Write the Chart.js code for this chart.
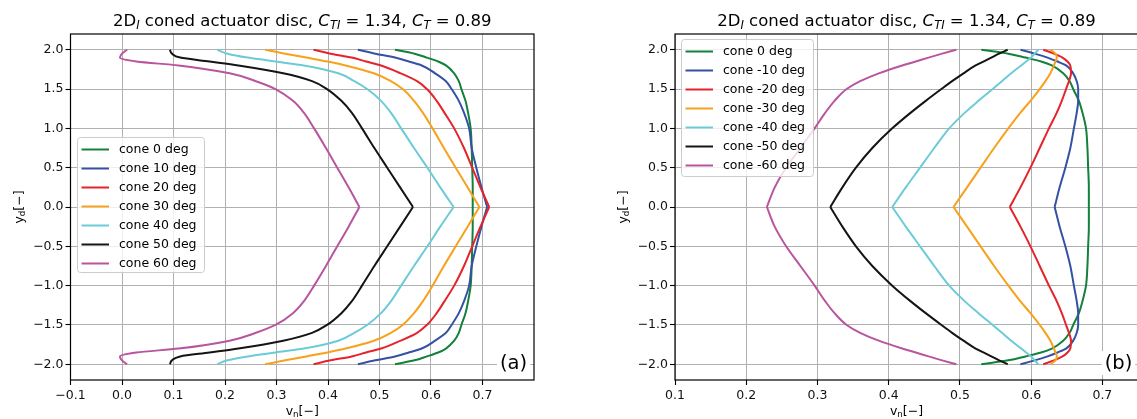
<!DOCTYPE html>
<html>
<head>
<meta charset="utf-8">
<script src="https://cdn.jsdelivr.net/npm/chart.js@4.4.1/dist/chart.umd.min.js"></script>
<style>
  body { margin: 0; width: 1137px; height: 419px; overflow: hidden; background: #fff; position: relative; }
  #wrapA { position: absolute; left: 0; top: 0; width: 560px; height: 419px; }
  #wrapB { position: absolute; left: 570px; top: 0; width: 580px; height: 419px; }
</style>
</head>
<body>
<div id="wrapA"><canvas id="chartA"></canvas></div>
<div id="wrapB"><canvas id="chartB"></canvas></div>
<script>
// y positions along the disc, top edge to bottom edge
const yPts = [2.0, 1.95, 1.9, 1.85, 1.8, 1.7, 1.6, 1.5, 1.35, 1.2, 1.0, 0.75, 0.5, 0.25, 0.0,
  -0.25, -0.5, -0.75, -1.0, -1.2, -1.35, -1.5, -1.6, -1.7, -1.8, -1.85, -1.9, -1.95, -2.0];

const labelsA = ["cone 0 deg", "cone 10 deg", "cone 20 deg", "cone 30 deg", "cone 40 deg", "cone 50 deg", "cone 60 deg"];
const labelsB = ["cone 0 deg", "cone -10 deg", "cone -20 deg", "cone -30 deg", "cone -40 deg", "cone -50 deg", "cone -60 deg"];
const lineColors = ["#13803b", "#3451a3", "#e5232b", "#f7a11c", "#6ccbd8", "#141414", "#b8559f"];

const xTicksA = [-0.1, 0.0, 0.1, 0.2, 0.3, 0.4, 0.5, 0.6, 0.7];
const xTicksB = [0.1, 0.2, 0.3, 0.4, 0.5, 0.6, 0.7];
const yTicks = [-2.0, -1.5, -1.0, -0.5, 0.0, 0.5, 1.0, 1.5, 2.0];

// normal velocity v_n at each y, positive cone angles
const vnCone0 = [0.530, 0.568, 0.592, 0.614, 0.629, 0.645, 0.654, 0.659, 0.667, 0.672, 0.677, 0.679, 0.680, 0.681, 0.681,
  0.681, 0.680, 0.679, 0.677, 0.672, 0.667, 0.659, 0.654, 0.645, 0.629, 0.614, 0.592, 0.568, 0.530];
const vnCone10 = [0.458, 0.492, 0.530, 0.557, 0.582, 0.608, 0.629, 0.640, 0.654, 0.664, 0.674, 0.679, 0.688, 0.698, 0.709,
  0.698, 0.688, 0.679, 0.674, 0.664, 0.654, 0.640, 0.629, 0.608, 0.582, 0.557, 0.530, 0.492, 0.458];
const vnCone20 = [0.372, 0.405, 0.446, 0.474, 0.503, 0.541, 0.573, 0.592, 0.611, 0.626, 0.645, 0.664, 0.680, 0.696, 0.713,
  0.696, 0.680, 0.664, 0.645, 0.626, 0.611, 0.592, 0.573, 0.541, 0.503, 0.474, 0.446, 0.405, 0.372];
const vnCone30 = [0.278, 0.317, 0.358, 0.399, 0.434, 0.489, 0.522, 0.545, 0.567, 0.584, 0.603, 0.625, 0.648, 0.671, 0.694,
  0.671, 0.648, 0.625, 0.603, 0.584, 0.567, 0.545, 0.522, 0.489, 0.434, 0.399, 0.358, 0.317, 0.278];
const vnCone40 = [0.185, 0.205, 0.244, 0.298, 0.353, 0.420, 0.451, 0.476, 0.503, 0.522, 0.542, 0.567, 0.593, 0.618, 0.644,
  0.618, 0.593, 0.567, 0.542, 0.522, 0.503, 0.476, 0.451, 0.420, 0.353, 0.298, 0.244, 0.205, 0.185];
const vnCone50 = [0.093, 0.097, 0.113, 0.170, 0.226, 0.313, 0.369, 0.398, 0.426, 0.446, 0.466, 0.490, 0.515, 0.540, 0.565,
  0.540, 0.515, 0.490, 0.466, 0.446, 0.426, 0.398, 0.369, 0.313, 0.226, 0.170, 0.113, 0.097, 0.093];
const vnCone60 = [0.010, 0.000, -0.004, 0.028, 0.110, 0.209, 0.260, 0.298, 0.332, 0.353, 0.373, 0.396, 0.418, 0.440, 0.461,
  0.440, 0.418, 0.396, 0.373, 0.353, 0.332, 0.298, 0.260, 0.209, 0.110, 0.028, -0.004, 0.000, 0.010];

// negative cone angles
const vnConeM10 = [0.585, 0.605, 0.623, 0.637, 0.649, 0.659, 0.664, 0.666, 0.666, 0.664, 0.660, 0.655, 0.648, 0.640, 0.633,
  0.640, 0.648, 0.655, 0.660, 0.664, 0.666, 0.666, 0.664, 0.659, 0.649, 0.637, 0.623, 0.605, 0.585];
const vnConeM20 = [0.617, 0.632, 0.644, 0.651, 0.655, 0.656, 0.653, 0.649, 0.643, 0.636, 0.625, 0.612, 0.599, 0.585, 0.570,
  0.585, 0.599, 0.612, 0.625, 0.636, 0.643, 0.649, 0.653, 0.656, 0.655, 0.651, 0.644, 0.632, 0.617];
const vnConeM30 = [0.627, 0.634, 0.636, 0.634, 0.632, 0.627, 0.620, 0.612, 0.599, 0.585, 0.568, 0.548, 0.529, 0.510, 0.491,
  0.510, 0.529, 0.548, 0.568, 0.585, 0.599, 0.612, 0.620, 0.627, 0.632, 0.634, 0.636, 0.634, 0.627];
const vnConeM40 = [0.610, 0.605, 0.600, 0.593, 0.586, 0.572, 0.559, 0.546, 0.526, 0.507, 0.485, 0.464, 0.444, 0.424, 0.405,
  0.424, 0.444, 0.464, 0.485, 0.507, 0.526, 0.546, 0.559, 0.572, 0.586, 0.593, 0.600, 0.605, 0.610];
const vnConeM50 = [0.567, 0.555, 0.544, 0.533, 0.522, 0.505, 0.489, 0.474, 0.452, 0.431, 0.405, 0.377, 0.354, 0.335, 0.318,
  0.335, 0.354, 0.377, 0.405, 0.431, 0.452, 0.474, 0.489, 0.505, 0.522, 0.533, 0.544, 0.555, 0.567];
const vnConeM60 = [0.495, 0.475, 0.456, 0.438, 0.419, 0.386, 0.360, 0.341, 0.324, 0.311, 0.296, 0.276, 0.256, 0.240, 0.229,
  0.240, 0.256, 0.276, 0.296, 0.311, 0.324, 0.341, 0.360, 0.386, 0.419, 0.438, 0.456, 0.475, 0.495];

const FONT = "DejaVu Sans";
Chart.defaults.font.family = FONT;

const titleParts = [
  {t: "2D"}, {t: "I", it: true, sub: true}, {t: " coned actuator disc, "},
  {t: "C", it: true}, {t: "TI", it: true, sub: true}, {t: " = 1.34, "},
  {t: "C", it: true}, {t: "T", it: true, sub: true}, {t: " = 0.89"}
];
const yTitleParts = [{t: "y"}, {t: "d", sub: true}, {t: "[\u2212]"}];
const xTitleParts = [{t: "v"}, {t: "n", sub: true}, {t: "[\u2212]"}];

function partFont(p, size) {
  return (p.it ? "italic " : "") + (p.sub ? size * 0.7 : size) + "px '" + FONT + "'";
}

// draws a run of text pieces with subscripts, centred on (cx, cy)
function drawRich(ctx, parts, cx, cy, size, angle) {
  ctx.save();
  ctx.translate(cx, cy);
  if (angle) ctx.rotate(angle);
  ctx.textBaseline = "alphabetic";
  ctx.textAlign = "left";
  ctx.fillStyle = "#000";
  let w = 0;
  parts.forEach(p => { ctx.font = partFont(p, size); w += ctx.measureText(p.t).width; });
  let x = -w / 2;
  let base = size * 0.36;
  parts.forEach(p => {
    ctx.font = partFont(p, size);
    ctx.fillText(p.t, x, base + (p.sub ? size * 0.2 : 0));
    x += ctx.measureText(p.t).width;
  });
  ctx.restore();
}

function fmt(v) {
  return v.toFixed(1).replace("-", "\u2212");
}

function makeDatasets(series, labels) {
  let sets = [];
  series.forEach((xs, i) => {
    let pts = xs.map((x, k) => ({x: x, y: yPts[k]}));
    // split at the centre so the kink at y = 0 stays sharp
    [pts.slice(0, 15), pts.slice(14)].forEach((half, h) => {
      sets.push({
        label: labels[i],
        inLegend: h == 0,
        data: half,
        indexAxis: "y",
        borderColor: lineColors[i],
        backgroundColor: lineColors[i],
        borderWidth: 2,
        showLine: true,
        pointRadius: 0,
        cubicInterpolationMode: "monotone",
        fill: false,
        order: -i
      });
    });
  });
  return sets;
}

const decorations = {
  id: "decorations",
  afterDraw(chart, args, opts) {
    const ctx = chart.ctx, a = chart.chartArea;
    ctx.save();
    // frame
    ctx.strokeStyle = "#000";
    ctx.lineWidth = 1.2;
    ctx.strokeRect(a.left, a.top, a.right - a.left, a.bottom - a.top);

    // legend
    const L = opts.legend;
    ctx.beginPath();
    ctx.roundRect(L.x + 0.5, L.y + 0.5, L.w, L.h, 3);
    ctx.fillStyle = "rgba(255,255,255,0.8)";
    ctx.fill();
    ctx.strokeStyle = "#cccccc";
    ctx.lineWidth = 1;
    ctx.stroke();
    let row = 0;
    chart.data.datasets.forEach(ds => {
      if (!ds.inLegend) return;
      let y = L.y + 12.5 + row * 19;
      ctx.beginPath();
      ctx.moveTo(L.x + 4.5, y);
      ctx.lineTo(L.x + 32, y);
      ctx.strokeStyle = ds.borderColor;
      ctx.lineWidth = 2;
      ctx.stroke();
      ctx.fillStyle = "#000";
      ctx.font = "12.5px '" + FONT + "'";
      ctx.textAlign = "left";
      ctx.textBaseline = "middle";
      ctx.fillText(ds.label, L.x + 42, y + 0.5);
      row++;
    });

    // panel tag
    ctx.font = "19.5px '" + FONT + "'";
    const tw = ctx.measureText(opts.tag).width;
    ctx.fillStyle = "#fff";
    ctx.fillRect(opts.tagX - tw / 2 - 3, opts.tagY - 12, tw + 6, 24);
    ctx.fillStyle = "#000";
    ctx.textAlign = "center";
    ctx.textBaseline = "middle";
    ctx.fillText(opts.tag, opts.tagX, opts.tagY + 1);

    // title and axis titles
    const cx = (a.left + a.right) / 2;
    drawRich(ctx, titleParts, cx, 20, 16.5, 0);
    drawRich(ctx, xTitleParts, cx, 410, 12.5, 0);
    drawRich(ctx, yTitleParts, opts.yTitleX, (a.top + a.bottom) / 2, 12.5, -Math.PI / 2);
    ctx.restore();
  }
};

function makeChart(id, series, labels, xMin, xMax, xTicks, yWidth, rightPad, deco) {
  return new Chart(document.getElementById(id), {
    type: "scatter",
    data: { datasets: makeDatasets(series, labels) },
    plugins: [decorations],
    options: {
      responsive: true,
      maintainAspectRatio: false,
      animation: false,
      layout: { padding: { top: 34, right: rightPad, left: 0, bottom: 0 } },
      plugins: {
        legend: { display: false },
        tooltip: { enabled: false },
        title: { display: false },
        decorations: deco
      },
      scales: {
        x: {
          type: "linear",
          min: xMin,
          max: xMax,
          afterBuildTicks: s => { s.ticks = xTicks.map(v => ({ value: v })); },
          afterFit: s => { s.height = 39; },
          grid: { color: "#b0b0b0", lineWidth: 1, tickColor: "#000", tickLength: 5, tickWidth: 1.1 },
          border: { display: false },
          ticks: { color: "#111", font: { size: 12.5 }, padding: 3, maxRotation: 0, callback: v => fmt(v) }
        },
        y: {
          type: "linear",
          min: -2.2,
          max: 2.2,
          afterBuildTicks: s => { s.ticks = yTicks.map(v => ({ value: v })); },
          afterFit: s => { s.width = yWidth; },
          grid: { color: "#b0b0b0", lineWidth: 1, tickColor: "#000", tickLength: 5, tickWidth: 1.1 },
          border: { display: false },
          ticks: { color: "#111", font: { size: 12.5 }, padding: 2, callback: v => fmt(v) }
        }
      }
    }
  });
}

makeChart("chartA",
  [vnCone0, vnCone10, vnCone20, vnCone30, vnCone40, vnCone50, vnCone60],
  labelsA, -0.1, 0.8, xTicksA, 70.5, 26,
  { legend: { x: 77, y: 137, w: 127, h: 135 }, tag: "(a)", tagX: 513.5, tagY: 363, yTitleX: 18 });

makeChart("chartB",
  [vnCone0, vnConeM10, vnConeM20, vnConeM30, vnConeM40, vnConeM50, vnConeM60],
  labelsB, 0.1, 0.75, xTicksB, 105, 12,
  { legend: { x: 111, y: 39, w: 132, h: 137 }, tag: "(b)", tagX: 548.5, tagY: 363, yTitleX: 52 });
</script>
</body>
</html>
